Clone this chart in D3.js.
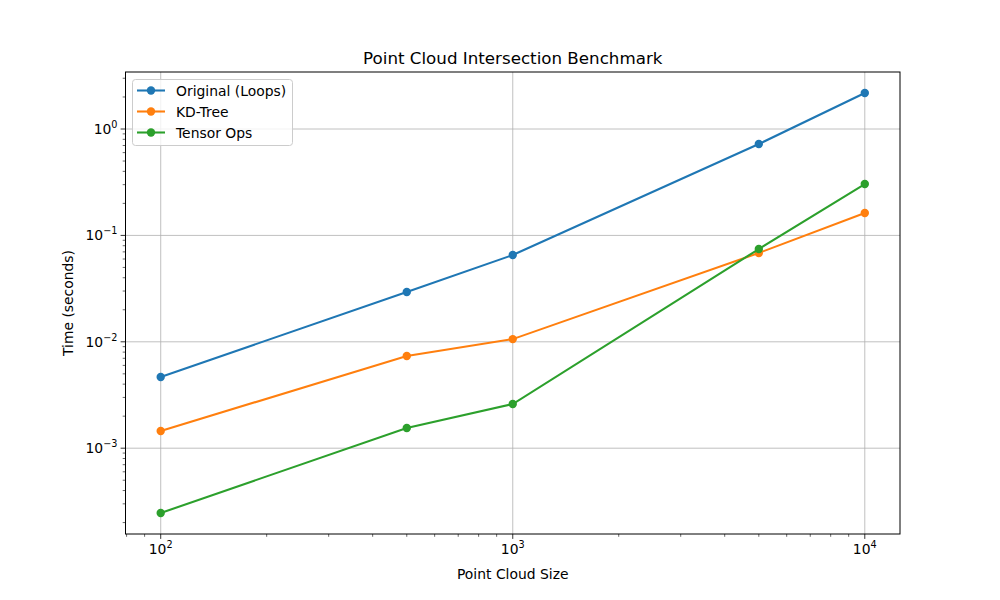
<!DOCTYPE html>
<html><head><meta charset="utf-8">
<script src="https://cdn.jsdelivr.net/npm/d3@7"></script>
<style>body{margin:0;background:#fff;} text{font-family:"DejaVu Sans",sans-serif;}</style>
</head><body><svg id="c" width="1000" height="600"></svg>
<script>
const sizes = [100, 500, 1000, 5000, 10000];
const seriesNames = ["Original (Loops)", "KD-Tree", "Tensor Ops"];
const colors = ["#1f77b4", "#ff7f0e", "#2ca02c"];
const originalTimes = [0.00467, 0.0294, 0.0654, 0.722, 2.18];
const kdTreeTimes = [0.00145, 0.00736, 0.0106, 0.0684, 0.1625];
const tensorTimes = [0.000246, 0.00155, 0.0026, 0.0745, 0.304];
const xMajorExps = [2, 3, 4];
const yMajorExps = [-3, -2, -1, 0];
const allSeries = [originalTimes, kdTreeTimes, tensorTimes];

const svg = d3.select("#c");
const L = 125.5, R = 900, T = 72, B = 534;

function logDomain(vals){
  const lo = Math.log10(d3.min(vals)), hi = Math.log10(d3.max(vals));
  const m = (hi - lo) * 0.05;
  return [Math.pow(10, lo - m), Math.pow(10, hi + m)];
}
const x = d3.scaleLog().domain(logDomain(sizes)).range([L, R]);
const y = d3.scaleLog().domain(logDomain(allSeries.flat())).range([B, T]);

function minorTicks(scale){
  const [a, b] = scale.domain();
  const out = [];
  for (let e = Math.floor(Math.log10(a)); e <= Math.ceil(Math.log10(b)); e++){
    for (let k = 2; k <= 9; k++){ const v = k * Math.pow(10, e); if (v >= a && v <= b) out.push(v); }
  }
  return out;
}

const g = svg.append("g");
// grid
xMajorExps.forEach(e => {
  const px = x(Math.pow(10, e));
  g.append("line").attr("x1", px).attr("x2", px).attr("y1", T).attr("y2", B).attr("stroke", "#b0b0b0").attr("stroke-width", 0.8);
});
yMajorExps.forEach(e => {
  const py = y(Math.pow(10, e));
  g.append("line").attr("x1", L).attr("x2", R).attr("y1", py).attr("y2", py).attr("stroke", "#b0b0b0").attr("stroke-width", 0.8);
});

// lines
const line = d3.line().x((d, i) => x(sizes[i])).y(d => y(d));
allSeries.forEach((s, si) => {
  g.append("path").datum(s).attr("d", line).attr("fill", "none").attr("stroke", colors[si]).attr("stroke-width", 2.08);
  g.selectAll(null).data(s).enter().append("circle")
    .attr("cx", (d, i) => x(sizes[i])).attr("cy", d => y(d)).attr("r", 4.2).attr("fill", colors[si]);
});

// frame
svg.append("rect").attr("x", L).attr("y", T).attr("width", R - L).attr("height", B - T)
  .attr("fill", "none").attr("stroke", "#000").attr("stroke-width", 1);

// x ticks
minorTicks(x).forEach(v => {
  svg.append("line").attr("x1", x(v)).attr("x2", x(v)).attr("y1", B).attr("y2", B + 2.8).attr("stroke", "#000").attr("stroke-width", 0.6);
});
xMajorExps.forEach(e => {
  const px = x(Math.pow(10, e));
  svg.append("line").attr("x1", px).attr("x2", px).attr("y1", B).attr("y2", B + 4.9).attr("stroke", "#000").attr("stroke-width", 0.8);
  const t = svg.append("text").attr("x", px).attr("y", B + 20).attr("text-anchor", "middle").attr("font-size", 13.9).attr("fill", "#000");
  t.append("tspan").text("10");
  t.append("tspan").attr("dy", -6).attr("font-size", 9.7).text(e);
});
// y ticks
minorTicks(y).forEach(v => {
  svg.append("line").attr("x1", L).attr("x2", L - 2.8).attr("y1", y(v)).attr("y2", y(v)).attr("stroke", "#000").attr("stroke-width", 0.6);
});
yMajorExps.forEach(e => {
  const py = y(Math.pow(10, e));
  svg.append("line").attr("x1", L).attr("x2", L - 4.9).attr("y1", py).attr("y2", py).attr("stroke", "#000").attr("stroke-width", 0.8);
  const t = svg.append("text").attr("x", L - 8).attr("y", py + 5).attr("text-anchor", "end").attr("font-size", 13.9).attr("fill", "#000");
  t.append("tspan").text("10");
  t.append("tspan").attr("dy", -6).attr("font-size", 9.7).text(e < 0 ? "\u2212" + (-e) : e);
});

// labels
svg.append("text").attr("x", (L + R) / 2).attr("y", 64).attr("text-anchor", "middle").attr("font-size", 16.7).text("Point Cloud Intersection Benchmark");
svg.append("text").attr("x", (L + R) / 2).attr("y", 579).attr("text-anchor", "middle").attr("font-size", 13.9).text("Point Cloud Size");
svg.append("text").attr("transform", `translate(73,${(T + B) / 2}) rotate(-90)`).attr("text-anchor", "middle").attr("font-size", 13.9).text("Time (seconds)");

// legend
const lg = svg.append("g");
lg.append("rect").attr("x", 132.5).attr("y", 79.5).attr("width", 160).attr("height", 66).attr("rx", 3)
  .attr("fill", "#fff").attr("fill-opacity", 0.8).attr("stroke", "#cccccc").attr("stroke-width", 1);
seriesNames.forEach((n, i) => {
  const ly = 90.5 + i * 21;
  lg.append("line").attr("x1", 137).attr("x2", 165).attr("y1", ly).attr("y2", ly).attr("stroke", colors[i]).attr("stroke-width", 2.08);
  lg.append("circle").attr("cx", 151).attr("cy", ly).attr("r", 4.2).attr("fill", colors[i]);
  lg.append("text").attr("x", 176).attr("y", ly + 5).attr("font-size", 13.9).text(n);
});
</script></body></html>
